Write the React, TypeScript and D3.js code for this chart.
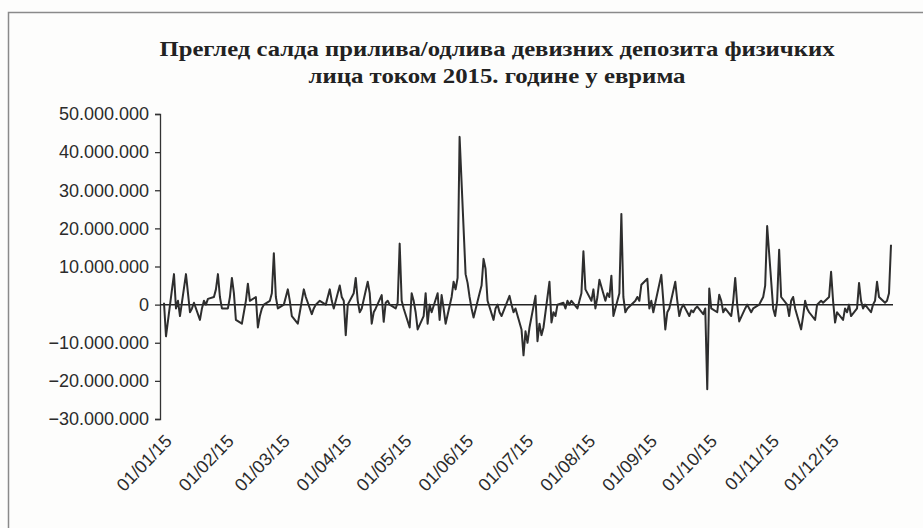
import React, { useEffect, useRef } from 'react';
import * as d3 from 'd3';

// net inflow/outflow per working day, in millions of EUR
const jan = [0.5, -8.3, 4, 8, -1, 1, -3, 8, 3, -2, -1, 0.5, -4, -1, 1, 0, 1.5, 2, 4, 8, 2, -1];
const feb = [-1, 2, 7, 3, -4, -5, -2, 1, 5.5, 1, 2, -6, -3, -1, 0, 1, 3, 13.5, 2, -1];
const mar = [0, 2, 4, 1, -3, -5, -2, 1, 4, 2, -2.5, -1, 0, 0.5, 1, 0, 2, 4, 1, -1, 5, 2];
const apr = [1, -8, 0, 3, 7, 1, -2, -1, 6, 3, -5, -2, -1, 2.5, -4.5, 0.5, 1, 0, -1, 0.5, 16, 1];
const may = [-1, -6, 3, 1, -2, -6.5, -3, 3, -5, 0, -2, 3, -4, 2.5, -1, -5, 2, 6, 4, 7, 44];
const jun = [8, 5.7, 2, -1, -3.4, 3, 5, 12, 9.4, 1, -4, -1, 0, -2, -3, 1, 2.3, 0, -2, -1, -6.5, -13.3];
const jul = [-7, -10, -6, 2.3, -9.6, -5, -8, -6, 6, -4.7, -2, -3, 0, 0.5, -1, 1, 0, 1, -1, 1, 3, 14, 4];
const aug = [1, 4, -1, 2, 6.5, 1, 3, 2, 7.6, -3, 3, 23.8, 2, -2, -1, 0.5, 1, 2, 1, 5.2, 6.8];
const sep = [-1, 1, -2, 0.5, 7.8, 1, -6.5, -2, -1, 6, 1, -3, -1, 0, -3, -1.5, -2, -1, -0.5, -2.5, -1, -22.2];
const oct = [4.2, -1, -2, 2.6, 1, -2, -1, -3, 1, 7, 0, -4.4, -1, 0, -1, -2, -1, 0, 1, 2, 5, 20.6];
const nov = [-1, -3, 1, 14.4, 2, 0, -3, 1, 2, -1, -6.5, -3, 1, -1, -2, -4, 0, 0.5, 1, 0.5, 2];
const dec = [8.6, 1, -4.7, -2, -4, -1, -2, 0, -3, -1, 5.7, 1, -1, 0, -2, 0, 1, 6, 2, 0.5, 1, 3, 15.7];
const months = [jan, feb, mar, apr, may, jun, jul, aug, sep, oct, nov, dec];

const yTicks = [-30, -20, -10, 0, 10, 20, 30, 40, 50];
const titleLines = [
  'Преглед салда прилива/одлива девизних депозита физичких',
  'лица током 2015. године у еврима',
];
const titleWidths = [675, 377];

const W = 923;
const H = 528;

const App = () => {
  const ref = useRef<SVGSVGElement>(null);

  useEffect(() => {
    const svg = d3.select(ref.current);
    svg.selectAll('*').remove();

    // working days of each month, paired with the values
    const data: { date: Date; value: number }[] = [];
    months.forEach((vals, m) => {
      const days = d3.timeDay
        .range(new Date(2015, m, 1), new Date(2015, m + 1, 1))
        .filter(d => d.getDay() !== 0 && d.getDay() !== 6);
      vals.forEach((v, i) => {
        if (days[i]) data.push({ date: days[i], value: v * 1e6 });
      });
    });

    svg.append('rect')
      .attr('width', W)
      .attr('height', H)
      .attr('fill', '#fdfdfc');

    // chart frame
    svg.append('rect')
      .attr('x', 8.5)
      .attr('y', 12.5)
      .attr('width', W)
      .attr('height', H)
      .attr('fill', 'none')
      .attr('stroke', '#8a8a8a')
      .attr('stroke-width', 1.5);

    titleLines.forEach((t, i) => {
      svg.append('text')
        .attr('x', 497)
        .attr('y', 56 + i * 27)
        .attr('text-anchor', 'middle')
        .attr('font-family', '"Liberation Serif", "Times New Roman", serif')
        .attr('font-weight', 'bold')
        .attr('font-size', 22)
        .attr('textLength', titleWidths[i])
        .attr('lengthAdjust', 'spacingAndGlyphs')
        .attr('fill', '#222')
        .text(t);
    });

    const x = d3.scaleTime()
      .domain([new Date(2015, 0, 1), new Date(2015, 11, 31)])
      .range([164, 891]);

    const y = d3.scaleLinear()
      .domain([-30e6, 50e6])
      .range([419, 114]);

    const locale = d3.formatLocale({ decimal: ',', thousands: '.', grouping: [3], currency: ['', ''] });
    const fmt = locale.format(',.0f');

    const yAxis = svg.append('g')
      .attr('transform', 'translate(160,0)')
      .call(d3.axisLeft(y)
        .tickValues(yTicks.map(v => v * 1e6))
        .tickSize(5)
        .tickPadding(6)
        .tickFormat(d => fmt(d as number)));
    yAxis.selectAll('path,line').attr('stroke', '#333').attr('stroke-width', 1.3);
    yAxis.selectAll('text')
      .attr('font-family', '"Liberation Sans", Arial, sans-serif')
      .attr('font-size', 18)
      .attr('fill', '#2b2b2b');

    // zero line / horizontal axis
    svg.append('line')
      .attr('x1', 160)
      .attr('x2', 893)
      .attr('y1', y(0))
      .attr('y2', y(0))
      .attr('stroke', '#222')
      .attr('stroke-width', 1.5);

    // date labels at the bottom
    const monthStarts = d3.range(12).map(m => new Date(2015, m, 1));
    const dateFmt = d3.timeFormat('%d/%m/%y');
    svg.selectAll('.xlabel')
      .data(monthStarts)
      .enter()
      .append('text')
      .attr('class', 'xlabel')
      .attr('transform', d => `translate(${x(d) + 9},${442}) rotate(-46)`)
      .attr('text-anchor', 'end')
      .attr('font-family', '"Liberation Sans", Arial, sans-serif')
      .attr('font-size', 18)
      .attr('fill', '#2b2b2b')
      .text(d => dateFmt(d));

    const line = d3.line<{ date: Date; value: number }>()
      .x(d => x(d.date))
      .y(d => y(d.value));

    svg.append('path')
      .datum(data)
      .attr('d', line)
      .attr('fill', 'none')
      .attr('stroke', '#2e2e2e')
      .attr('stroke-width', 2)
      .attr('stroke-linejoin', 'round');
  }, []);

  return (
    <svg
      ref={ref}
      width={W}
      height={H}
      style={{ position: 'absolute', left: 0, top: 0 }}
    ></svg>
  );
};

export default App;
